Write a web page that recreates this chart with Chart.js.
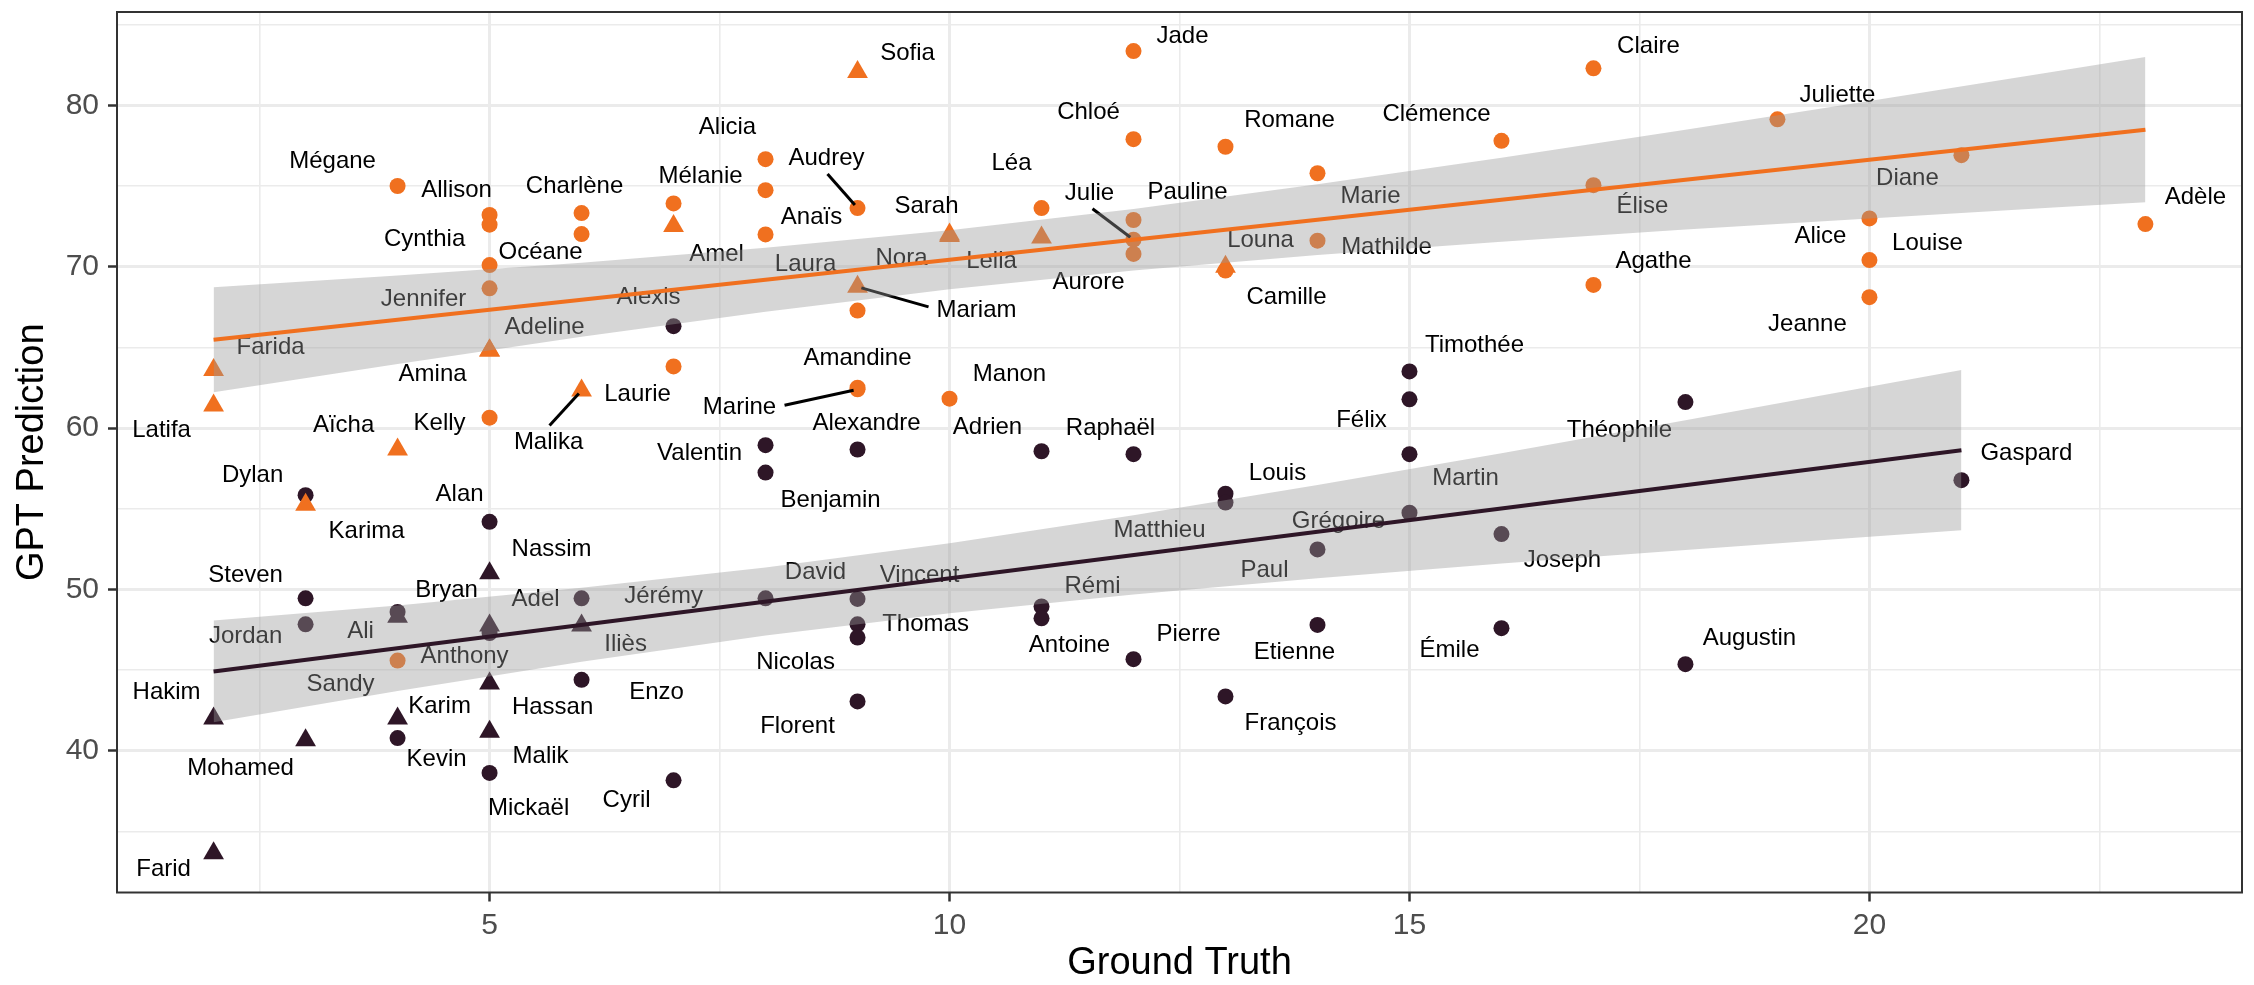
<!DOCTYPE html>
<html><head><meta charset="utf-8">
<script src="https://cdn.jsdelivr.net/npm/chart.js@4.4.1/dist/chart.umd.min.js"></script>
<style>html,body{margin:0;padding:0;background:#fff;}canvas{display:block;}</style>
</head><body>
<canvas id="c" width="2254" height="985"></canvas>
<script>
// ---------------- data ----------------
const femaleNames = ['Farida','Latifa','Karima','Mégane','Aïcha','Sandy','Allison','Cynthia','Océane','Jennifer',
 'Amina','Adeline','Kelly','Charlène','','Malika','Mélanie','Amel','Laurie','Alicia',
 'Anaïs','Laura','Sofia','Audrey','Mariam','','Amandine','Marine','Sarah','Nora',
 'Manon','Léa','Leila','Jade','Chloé','Pauline','Julie','Aurore','Romane','Louna',
 'Camille','Marie','Mathilde','Clémence','Claire','Élise','Agathe','Juliette','Alice','Louise',
 'Jeanne','Diane','Adèle'];
const femaleTruth = [2,2,3,4,4,4,5,5,5,5,
 5,5,5,6,6,6,7,7,7,8,
 8,8,9,9,9,9,9,9,10,10,
 10,11,11,12,12,12,12,12,13,13,
 13,14,14,16,17,17,17,19,20,20,
 20,21,23];
const femalePrediction = [63.6,61.4,55.25,75.0,58.67,45.59,73.2,72.6,70.1,68.66,
 64.8,64.8,60.64,73.32,72.02,62.33,73.92,72.52,63.82,76.66,
 74.74,72.0,82.06,73.63,68.75,67.28,62.5,62.4,72.0,71.9,
 61.82,73.63,71.8,83.36,77.9,72.89,71.67,70.79,77.43,70.0,
 69.76,75.79,71.61,77.8,82.29,75.05,68.87,79.13,72.99,70.41,
 68.11,76.91,72.64];
const femaleMarker = ['t','t','t','c','t','c','c','c','c','c',
 't','t','c','c','c','t','c','t','c','c',
 'c','c','t','c','t','c','c','c','t','t',
 'c','c','t','c','c','c','c','c','c','t',
 'c','c','c','c','c','c','c','c','c','c',
 'c','c','c'];

const maleNames = ['Hakim','Farid','Dylan','Steven','Jordan','Mohamed','Bryan','Ali','Karim','Kevin',
 'Alan','Nassim','Adel','Anthony','Hassan','Malik','Mickaël','Jérémy','Iliès','Enzo',
 'Alexis','Cyril','Valentin','Benjamin','David','Alexandre','Vincent','Thomas','Nicolas','Florent',
 'Adrien','Rémi','Antoine','Raphaël','Pierre','Louis','Matthieu','François','Paul','Etienne',
 'Timothée','Félix','Martin','Grégoire','Joseph','Émile','Théophile','Augustin','Gaspard'];
const maleTruth = [2,2,3,3,3,3,4,4,4,4,
 5,5,5,5,5,5,5,6,6,6,
 7,7,8,8,8,9,9,9,9,9,
 11,11,11,12,12,13,13,13,14,14,
 15,15,15,15,16,16,18,18,21];
const malePrediction = [42.0,33.65,55.84,49.45,47.84,40.66,48.6,48.3,42.0,40.79,
 54.19,51.0,47.76,47.3,44.17,41.18,38.63,49.45,47.76,44.4,
 66.31,38.17,58.94,57.24,49.45,58.67,49.41,47.84,47.02,43.06,
 58.56,48.94,48.21,58.38,45.68,55.93,55.38,43.37,52.48,47.8,
 63.51,61.78,58.38,54.75,53.43,47.6,61.61,45.37,56.77];
const maleMarker = ['t','t','c','c','c','t','c','t','t','c',
 'c','t','t','c','t','t','c','c','t','c',
 'c','c','c','c','c','c','c','c','c','c',
 'c','c','c','c','c','c','c','c','c','c',
 'c','c','c','c','c','c','c','c','c'];

// fitted lines and confidence bands
const femaleFitX = [2, 23];
const femaleFitY = [65.47, 78.49];
const maleFitX = [2, 21];
const maleFitY = [44.92, 58.63];
const femaleBandX = [2,4,6,8,10,12,14,16,18,20,22,23];
const femaleBandUpper = [68.72,69.45,70.25,71.17,72.26,73.58,75.10,76.75,78.48,80.27,82.08,82.99];
const femaleBandLower = [62.22,63.97,65.65,67.21,68.60,69.76,70.72,71.55,72.30,72.99,73.66,73.99];
const maleBandX = [2,4,6,8,10,12,14,16,18,20,21];
const maleBandUpper = [48.07,49.01,50.10,51.36,52.86,54.59,56.47,58.44,60.49,62.56,63.60];
const maleBandLower = [41.77,43.71,45.52,47.14,48.52,49.69,50.69,51.60,52.45,53.26,53.66];

// axes
const xGridValues = [2.5,5,7.5,10,12.5,15,17.5,20,22.5];
const xMajorValues = [5,10,15,20];
const xTickLabels = ['5','10','15','20'];
const yGridValues = [35,40,45,50,55,60,65,70,75,80,85];
const yMajorValues = [40,50,60,70,80];
const yTickLabels = ['40','50','60','70','80'];
const xTitle = 'Ground Truth';
const yTitle = 'GPT Prediction';

// ---------------- layout / style ----------------
const ORANGE = '#F0701F';
const DARK = '#2E1627';
const BAND = 'rgba(153,153,153,0.4)';
const FONT = "'Liberation Sans', Arial, Helvetica, sans-serif";

// label offsets (pixels, relative to the point) as placed by the repel layout
const labelOffset = {
 'Farida':[57,-23],'Latifa':[-52,25],'Karima':[61,27],'Mégane':[-65,-25],'Aïcha':[-54,-24],'Sandy':[-57,24],
 'Allison':[-33,-25],'Cynthia':[-65,15],'Océane':[51,-13],'Jennifer':[-66,11],'Amina':[-57,24],'Adeline':[55,-23],
 'Kelly':[-50,6],'Charlène':[-7,-27],'Malika':[-33,52],'Mélanie':[27,-27],'Amel':[43,28],'Laurie':[-36,28],
 'Alicia':[-38,-32],'Anaïs':[46,27],'Laura':[40,30],'Sofia':[50,-19],'Audrey':[-31,-50],'Mariam':[119,24],
 'Amandine':[0,-29],'Marine':[-118,18],'Sarah':[-23,-28],'Nora':[-48,22],'Manon':[60,-24],'Léa':[-30,-45],
 'Leila':[-50,24],'Jade':[49,-15],'Chloé':[-45,-27],'Pauline':[54,-28],'Julie':[-44,-46],'Aurore':[-45,28],
 'Romane':[64,-26],'Louna':[35,-26],'Camille':[61,27],'Marie':[53,23],'Mathilde':[69,7],'Clémence':[-65,-26],
 'Claire':[55,-22],'Élise':[49,21],'Agathe':[60,-24],'Juliette':[60,-24],'Alice':[-49,18],'Louise':[58,-17],
 'Jeanne':[-62,27],'Diane':[-54,23],'Adèle':[50,-27],
 'Hakim':[-47,-26],'Farid':[-50,16],'Dylan':[-53,-20],'Steven':[-60,-23],'Jordan':[-60,12],'Mohamed':[-65,28],
 'Bryan':[49,-22],'Ali':[-37,15],'Karim':[42,-12],'Kevin':[39,21],'Alan':[-30,-27],'Nassim':[62,-24],
 'Adel':[46,-26],'Anthony':[-25,23],'Hassan':[63,24],'Malik':[51,25],'Mickaël':[39,35],'Jérémy':[82,-2],
 'Iliès':[44,19],'Enzo':[75,13],'Alexis':[-25,-29],'Cyril':[-47,20],'Valentin':[-66,8],'Benjamin':[65,28],
 'David':[50,-26],'Alexandre':[9,-26],'Vincent':[62,-24],'Thomas':[68,0],'Nicolas':[-62,25],'Florent':[-60,25],
 'Adrien':[-54,-24],'Rémi':[51,-20],'Antoine':[28,27],'Raphaël':[-23,-26],'Pierre':[55,-25],'Louis':[52,-20],
 'Matthieu':[-66,28],'François':[65,27],'Paul':[-53,21],'Etienne':[-23,27],'Timothée':[65,-26],'Félix':[-48,21],
 'Martin':[56,24],'Grégoire':[-71,9],'Joseph':[61,26],'Émile':[-52,22],'Théophile':[-66,28],'Augustin':[64,-26],
 'Gaspard':[65,-27]
};
const leaderStart = {'Audrey':[-30,-34],'Julie':[-41,-31],'Mariam':[71,20],'Marine':[-73,16],'Malika':[-32,35]};

const toXY = (xs, ys) => xs.map((x, i) => ({x: x, y: ys[i]}));
const markerStyle = m => m === 't' ? 'triangle' : 'circle';
const markerRadius = m => m === 't' ? 12 : 8;

const FEMALE_INDEX = 6;

const labelPlugin = {
  id: 'repelLabels',
  afterDatasetDraw(chart, args) {
    if (args.index !== FEMALE_INDEX) return;
    const ctx = chart.ctx, xs = chart.scales.x, ys = chart.scales.y;
    ctx.save();
    ctx.beginPath();
    ctx.rect(chart.chartArea.left, chart.chartArea.top, chart.chartArea.right - chart.chartArea.left, chart.chartArea.bottom - chart.chartArea.top);
    ctx.clip();
    const groups = [[maleNames, maleTruth, malePrediction], [femaleNames, femaleTruth, femalePrediction]];
    groups.forEach(([nm, tx, py]) => {
      nm.forEach((n, i) => {
        const off = labelOffset[n];
        if (!off) return;
        const px = xs.getPixelForValue(tx[i]);
        const pyy = ys.getPixelForValue(py[i]);
        const ls = leaderStart[n];
        if (ls) {
          const sx = px + ls[0], sy = pyy + ls[1];
          const dx = px - sx, dy = pyy - sy, d = Math.hypot(dx, dy);
          const ex = px - dx / d * 4, ey = pyy - dy / d * 4;
          ctx.strokeStyle = '#000';
          ctx.lineWidth = 3;
          ctx.beginPath(); ctx.moveTo(sx, sy); ctx.lineTo(ex, ey); ctx.stroke();
        }
        ctx.font = '24px ' + FONT;
        ctx.fillStyle = '#000';
        ctx.textAlign = 'center';
        ctx.textBaseline = 'middle';
        ctx.fillText(n, px + off[0], pyy + off[1]);
      });
    });
    ctx.restore();
  }
};

const framePlugin = {
  id: 'frame',
  beforeDraw(chart) {
    const ctx = chart.ctx;
    ctx.save(); ctx.fillStyle = '#fff'; ctx.fillRect(0, 0, chart.width, chart.height); ctx.restore();
  },
  afterDraw(chart) {
    const {left, top, right, bottom} = chart.chartArea;
    const ctx = chart.ctx;
    ctx.save();
    ctx.strokeStyle = '#333333';
    ctx.lineWidth = 2;
    ctx.strokeRect(left, top, right - left, bottom - top);
    ctx.restore();
  }
};

const lineDs = (data, color) => ({type: 'line', data, borderColor: color, borderWidth: 4, pointRadius: 0, fill: false, tension: 0});
const bandDs = (data, fill) => ({type: 'line', data, borderColor: 'rgba(0,0,0,0)', borderWidth: 0, pointRadius: 0,
  backgroundColor: BAND, fill: fill, tension: 0});
const pointDs = (xs, ys, marks, color) => ({
  type: 'scatter', data: toXY(xs, ys),
  pointStyle: c => markerStyle(marks[c.dataIndex]),
  pointRadius: c => markerRadius(marks[c.dataIndex]),
  pointHoverRadius: c => markerRadius(marks[c.dataIndex]),
  backgroundColor: color, borderColor: color, borderWidth: 0, showLine: false
});

const isIn = (arr, v) => arr.some(a => Math.abs(a - v) < 1e-9);

new Chart(document.getElementById('c'), {
  type: 'scatter',
  data: {
    datasets: [
      lineDs(toXY(femaleFitX, femaleFitY), ORANGE),
      lineDs(toXY(maleFitX, maleFitY), DARK),
      bandDs(toXY(femaleBandX, femaleBandUpper), '+1'),
      bandDs(toXY(femaleBandX, femaleBandLower), false),
      bandDs(toXY(maleBandX, maleBandUpper), '+1'),
      bandDs(toXY(maleBandX, maleBandLower), false),
      pointDs(femaleTruth, femalePrediction, femaleMarker, ORANGE),
      pointDs(maleTruth, malePrediction, maleMarker, DARK)
    ]
  },
  options: {
    responsive: false,
    devicePixelRatio: 1,
    animation: false,
    events: [],
    layout: {padding: {left: 0, right: 6, top: 9, bottom: 0}},
    plugins: {legend: {display: false}, tooltip: {enabled: false}},
    scales: {
      x: {
        type: 'linear', position: 'bottom', min: 0.95, max: 24.05,
        afterBuildTicks: s => { s.ticks = xGridValues.map(v => ({value: v})); },
        afterFit: s => { s.height = 92.5; s.paddingLeft = 0; s.paddingRight = 0; s.paddingTop = 0; s.paddingBottom = 0; },
        border: {display: false},
        grid: {
          color: '#EBEBEB',
          lineWidth: c => (c.tick && isIn(xMajorValues, c.tick.value)) ? 3 : 1.6,
          drawTicks: true, tickLength: 9, tickWidth: 2.5,
          tickColor: c => (c.tick && isIn(xMajorValues, c.tick.value)) ? '#333333' : 'rgba(0,0,0,0)'
        },
        ticks: {
          autoSkip: false, maxRotation: 0, minRotation: 0, padding: 6,
          color: '#4D4D4D', font: {family: FONT, size: 30},
          callback: v => { const k = xMajorValues.findIndex(a => Math.abs(a - v) < 1e-9); return k >= 0 ? xTickLabels[k] : ''; }
        },
        title: {display: true, text: xTitle, color: '#000', font: {family: FONT, size: 38, lineHeight: 1}, padding: {top: 0, bottom: 2}}
      },
      y: {
        type: 'linear', position: 'left', min: 31.22, max: 85.78,
        afterBuildTicks: s => { s.ticks = yGridValues.map(v => ({value: v})); },
        afterFit: s => { s.width = 117; s.paddingLeft = 0; s.paddingRight = 0; s.paddingTop = 0; s.paddingBottom = 0; },
        border: {display: false},
        grid: {
          color: '#EBEBEB',
          lineWidth: c => (c.tick && isIn(yMajorValues, c.tick.value)) ? 3 : 1.6,
          drawTicks: true, tickLength: 9, tickWidth: 2.5,
          tickColor: c => (c.tick && isIn(yMajorValues, c.tick.value)) ? '#333333' : 'rgba(0,0,0,0)'
        },
        ticks: {
          autoSkip: false, padding: 9,
          color: '#4D4D4D', font: {family: FONT, size: 30},
          callback: v => { const k = yMajorValues.findIndex(a => Math.abs(a - v) < 1e-9); return k >= 0 ? yTickLabels[k] : ''; }
        },
        title: {display: true, text: yTitle, color: '#000', font: {family: FONT, size: 38, lineHeight: 1}, padding: {top: 14, bottom: 0}}
      }
    }
  },
  plugins: [framePlugin, labelPlugin]
});
</script>
</body></html>
